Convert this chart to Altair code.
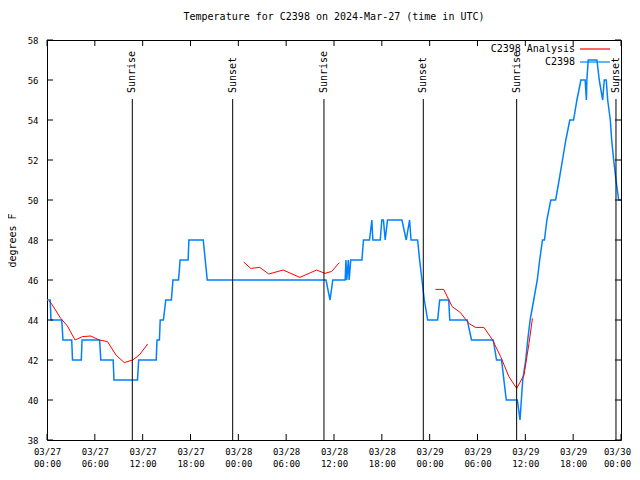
import altair as alt
import pandas as pd

# Hours since 2024-03-27 00:00 UTC
obs_hours = [0.0, 0.4, 0.5, 1.85, 2.0, 3.1, 3.2, 4.3, 4.4, 6.6, 6.75, 8.3, 8.4, 11.35, 11.5,
             13.7, 13.8, 14.1, 14.2, 14.6, 14.9, 15.6, 15.8, 16.5, 16.7, 17.7, 17.8, 19.6, 20.1,
             35.0, 35.5, 35.85, 37.4, 37.5, 37.6, 37.8, 37.9, 38.1, 39.5, 39.7, 40.45, 40.75,
             40.87, 41.8, 42.0, 42.2, 42.42, 42.71, 44.52, 45.06, 45.48, 45.66, 46.49, 46.74,
             47.33, 47.75, 49.0, 49.26, 50.39, 50.52, 52.71, 53.25, 55.98, 56.39, 57.02, 57.31,
             57.61, 59.0, 59.33, 59.5, 59.67, 60.05, 60.3, 60.6, 61.05, 61.5, 61.8, 62.15, 62.4,
             62.7, 63.2, 63.8, 64.24, 64.66, 65.08, 65.58, 66.05, 66.47, 66.97, 67.5, 67.66,
             67.72, 67.89, 68.98, 69.27, 69.7, 69.9, 70.15, 70.33, 70.66, 70.83, 71.08, 71.37,
             71.71, 72.0]
obs_temps = [45, 45, 44, 44, 43, 43, 42, 42, 43, 43, 42, 42, 41, 41, 42,
             42, 43, 43, 44, 44, 45, 45, 46, 46, 47, 47, 48, 48, 46,
             46, 45, 46, 46, 47, 46, 47, 46, 47, 47, 48, 48, 49,
             48, 48, 49, 49, 48, 49, 49, 48, 49, 48, 48, 47,
             45, 44, 44, 45, 45, 44, 44, 43, 43, 42, 42, 41,
             40, 40, 39, 40, 41, 42, 43, 44, 45, 46, 47, 48, 48,
             49, 50, 50, 51, 52, 53, 54, 54, 55, 56, 56, 55,
             56, 57, 57, 56, 55, 56, 56, 55, 54, 53, 52, 51,
             50, 50]

ana_hours = [0.25, 0.54, 1.72, 2.56, 3.52, 4.44, 5.5, 6.55, 7.59, 8.65, 9.69, 10.74, 11.58, 12.63,
             24.67, 25.55, 26.69, 27.82, 29.62, 31.72, 33.82, 34.87, 35.71, 36.67,
             48.72, 49.76, 50.82, 51.86, 52.91, 53.75, 54.8, 55.85, 56.9, 57.94, 58.91, 59.83,
             60.46, 60.89]
ana_temps = [44.95, 44.83, 44.08, 43.7, 43.0, 43.17, 43.2, 43.0, 42.92, 42.25, 41.87, 42.0, 42.25, 42.8,
             46.9, 46.58, 46.63, 46.3, 46.5, 46.13, 46.5, 46.33, 46.43, 46.87,
             45.53, 45.53, 44.67, 44.37, 43.83, 43.63, 43.63, 43.03, 42.17, 41.17, 40.58, 41.25,
             42.83, 44.08]
ana_segment = [1] * 14 + [2] * 10 + [3] * 14

event_hours = [10.7, 23.29, 34.74, 47.2, 58.91, 71.37]
event_labels = ["Sunrise", "Sunset", "Sunrise", "Sunset", "Sunrise", "Sunset"]

x_ticks = [0, 6, 12, 18, 24, 30, 36, 42, 48, 54, 60, 66, 72]
y_ticks = [38, 40, 42, 44, 46, 48, 50, 52, 54, 56, 58]

legend_labels = ["C2398 Analysis", "C2398"]
legend_colors = ["#ff0000", "#0080ff"]

FONT = "DejaVu Sans Mono"
W, H = 574, 400

obs = pd.DataFrame({"h": obs_hours, "t": obs_temps})
ana = pd.DataFrame({"h": ana_hours, "t": ana_temps, "seg": ana_segment})
ev = pd.DataFrame({"h": event_hours, "label": event_labels})
xt = pd.DataFrame({"h": x_ticks})
yt = pd.DataFrame({"t": y_ticks})

xscale = alt.Scale(domain=[0, 72], nice=False, zero=False)
yscale = alt.Scale(domain=[38, 58], nice=False, zero=False)

label_expr = ("['03/' + (27 + floor(datum.value / 24)), "
              "((datum.value % 24) < 10 ? '0' : '') + (datum.value % 24) + ':00']")

xaxis = alt.Axis(values=x_ticks, labelExpr=label_expr, title=None, grid=False,
                 ticks=False, domain=False, labelFont=FONT, labelFontSize=9,
                 labelColor="black", labelPadding=7, labelLineHeight=12,
                 labelFlush=False, labelOverlap=False,
                 labelOffset={"expr": "datum.value == 72 ? -4 : 0"})
yaxis = alt.Axis(values=y_ticks, title="degrees F", grid=False, ticks=False, domain=False,
                 labelFont=FONT, labelFontSize=9, labelColor="black", labelPadding=9,
                 labelOverlap=False, labelFlush=False,
                 titleFont=FONT, titleFontSize=10, titleFontWeight="normal",
                 titleColor="black", titlePadding=10)

obs_line = alt.Chart(obs).mark_line(color="#0080ff", strokeWidth=1.5).encode(
    x=alt.X("h:Q", scale=xscale, axis=xaxis),
    y=alt.Y("t:Q", scale=yscale, axis=yaxis),
    order="h:Q")

ana_line = alt.Chart(ana).mark_line(color="#ff0000", strokeWidth=1).encode(
    x=alt.X("h:Q", scale=xscale, axis=xaxis), y=alt.Y("t:Q", scale=yscale, axis=yaxis),
    detail="seg:N", order="h:Q")

ev_rules = alt.Chart(ev).mark_rule(color="black", strokeWidth=1).encode(
    x=alt.X("h:Q", scale=xscale, axis=xaxis), y=alt.value(59), y2=alt.value(H))

ev_text = alt.Chart(ev).mark_text(angle=270, align="left", baseline="middle",
                                  font=FONT, fontSize=10, color="black").encode(
    x=alt.X("h:Q", scale=xscale, axis=xaxis), y=alt.value(53), text="label:N")

# inward ticks, gnuplot style
xt_bottom = alt.Chart(xt).mark_rule(color="black").encode(
    x=alt.X("h:Q", scale=xscale, axis=xaxis), y=alt.value(H), y2=alt.value(H - 6))
xt_top = alt.Chart(xt).mark_rule(color="black").encode(
    x=alt.X("h:Q", scale=xscale, axis=xaxis), y=alt.value(0), y2=alt.value(6))
yt_left = alt.Chart(yt).mark_rule(color="black").encode(
    y=alt.Y("t:Q", scale=yscale, axis=yaxis), x=alt.value(0), x2=alt.value(6))
yt_right = alt.Chart(yt).mark_rule(color="black").encode(
    y=alt.Y("t:Q", scale=yscale, axis=yaxis), x=alt.value(W - 6), x2=alt.value(W))

legend_layers = []
for i, (lab, col) in enumerate(zip(legend_labels, legend_colors)):
    d = pd.DataFrame({"label": [lab]})
    legend_layers.append(
        alt.Chart(d).mark_text(align="right", baseline="middle", font=FONT,
                               fontSize=10, color="black").encode(
            x=alt.value(528), y=alt.value(9 + 13 * i), text="label:N"))
    legend_layers.append(
        alt.Chart(d).mark_rule(color=col, strokeWidth=1.2).encode(
            x=alt.value(533), x2=alt.value(563), y=alt.value(9 + 13 * i)))

chart = alt.layer(
    obs_line, ana_line, ev_rules, ev_text,
    xt_bottom, xt_top, yt_left, yt_right, *legend_layers
).properties(
    width=W, height=H,
    title=alt.TitleParams("Temperature for C2398 on 2024-Mar-27 (time in UTC)",
                          font=FONT, fontSize=10, fontWeight="normal", color="black",
                          offset=14),
    autosize=alt.AutoSizeParams(type="none"),
    padding={"left": 39, "top": 32, "right": 11, "bottom": 32},
).configure_view(stroke="black", strokeWidth=1).configure_axis(labelOverlap=False)

chart.save("out.html", embed_options={"renderer": "svg", "actions": False})
